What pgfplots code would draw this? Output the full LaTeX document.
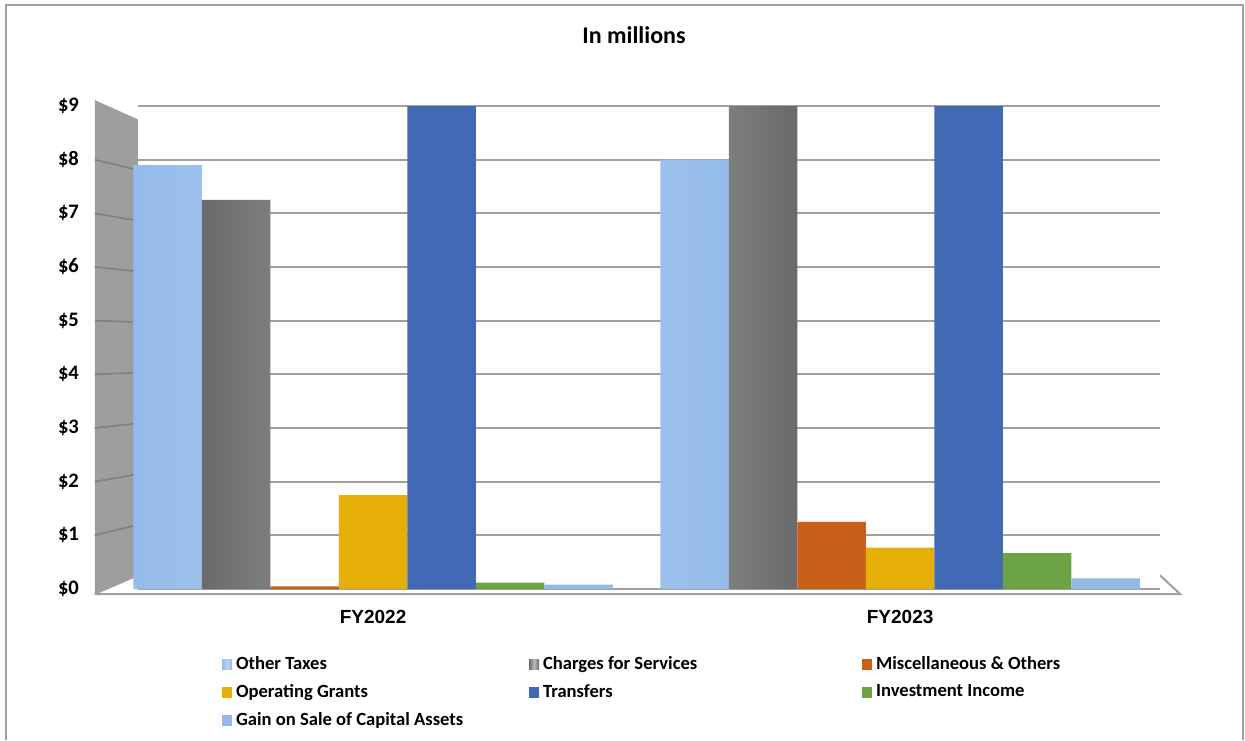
\documentclass[border=0pt]{standalone}
\usepackage{pgfplots}
\pgfplotsset{compat=1.18}
\usepackage{fontspec}
\setmainfont{Carlito}
\newfontfamily\arialfont{Liberation Sans}
\definecolor{otax}{HTML}{95BBEA}
\definecolor{otaxL}{HTML}{B8D3F2}
\definecolor{chgD}{HTML}{6A6A6A}
\definecolor{chgL}{HTML}{BCBCBC}
\definecolor{misc}{HTML}{C95F19}
\definecolor{opg}{HTML}{E6AF07}
\definecolor{trf}{HTML}{4169B4}
\definecolor{inv}{HTML}{6BA345}
\definecolor{gain}{HTML}{95B9E6}
\definecolor{gridc}{HTML}{A0A0A0}
\begin{document}
\begin{tikzpicture}
\useasboundingbox (-69pt,-75.5pt) rectangle (553.5pt,294.5pt);
\draw[gridc, line width=0.8pt] (-66pt,-75.5pt) -- (-66pt,292pt) -- (552.5pt,292pt) -- (552.5pt,-75.5pt);
\begin{axis}[
  at={(0,0)}, anchor=south west,
  scale only axis, width=511pt, height=241.5pt,
  xmin=-0.446, xmax=1.493, ymin=0, ymax=9,
  ybar=0pt, bar width=34.25pt,
  clip=false,
  axis line style={draw=none},
  major tick length=0pt,
  ymajorgrids, grid style={gridc, line width=0.9pt},
  ytick={0,1,...,9},
  yticklabels={\$0,\$1,\$2,\$3,\$4,\$5,\$6,\$7,\$8,\$9},
  yticklabel style={font=\bfseries\fontsize{10.3}{11}\selectfont, xshift=-26pt},
  xtick={0,1}, xticklabels={FY2022,FY2023},
  xticklabel style={font=\arialfont\bfseries\fontsize{9.5}{11}\selectfont, yshift=-7pt},
  legend columns=3,
  legend cell align=left,
  legend style={draw=none, fill=none, at={(axis description cs:0.076,-0.122)}, anchor=north west,
    font=\bfseries\fontsize{9.3}{11}\selectfont, row sep=2pt,
    /tikz/every even column/.append style={column sep=0pt}},
  legend image code/.code={\path[#1, draw=none] (0pt,-2.6pt) rectangle (5pt,2.6pt);},
]
% decorative side wall and floor
\fill[black!38] (axis cs:-0.528,-0.093) -- (axis cs:-0.528,9.11) -- (axis cs:-0.446,8.75) -- (axis cs:-0.446,0.255) -- cycle;
\draw[gridc!80!black, line width=0.8pt] (axis cs:-0.528,1) -- (axis cs:-0.446,1.199);
\draw[gridc!80!black, line width=0.8pt] (axis cs:-0.528,2) -- (axis cs:-0.446,2.143);
\draw[gridc!80!black, line width=0.8pt] (axis cs:-0.528,3) -- (axis cs:-0.446,3.087);
\draw[gridc!80!black, line width=0.8pt] (axis cs:-0.528,4) -- (axis cs:-0.446,4.031);
\draw[gridc!80!black, line width=0.8pt] (axis cs:-0.528,5) -- (axis cs:-0.446,4.975);
\draw[gridc!80!black, line width=0.8pt] (axis cs:-0.528,6) -- (axis cs:-0.446,5.919);
\draw[gridc!80!black, line width=0.8pt] (axis cs:-0.528,7) -- (axis cs:-0.446,6.863);
\draw[gridc!80!black, line width=0.8pt] (axis cs:-0.528,8) -- (axis cs:-0.446,7.807);
\draw[gridc, line width=1pt] (axis cs:-0.528,-0.093) -- (axis cs:1.531,-0.093) -- (axis cs:1.493,0.255);
\draw[gridc, line width=0.8pt] (axis cs:-0.528,-0.093) -- (axis cs:-0.446,0.255);

\addplot[draw=none, left color=otax, right color=otax, middle color=otaxL] coordinates {(0,7.9) (1,8.0)};
\addlegendentry{\makebox[144.5pt][l]{Other Taxes}}
\addplot[draw=none, left color=chgD, right color=chgD, middle color=chgL] coordinates {(0,7.25) (1,9)};
\addlegendentry{\makebox[157.5pt][l]{Charges for Services}}
\addplot[draw=none, fill=misc] coordinates {(0,0.05) (1,1.25)};
\addlegendentry{Miscellaneous \& Others}
\addplot[draw=none, fill=opg] coordinates {(0,1.75) (1,0.77)};
\addlegendentry{\makebox[144.5pt][l]{Operating Grants}}
\addplot[draw=none, fill=trf] coordinates {(0,9) (1,9)};
\addlegendentry{\makebox[157.5pt][l]{Transfers}}
\addplot[draw=none, fill=inv] coordinates {(0,0.12) (1,0.67)};
\addlegendentry{Investment Income}
\addplot[draw=none, fill=gain] coordinates {(0,0.08) (1,0.2)};
\addlegendentry{\makebox[144.5pt][l]{Gain on Sale of Capital Assets}}
\end{axis}
\node[font=\bfseries\fontsize{12}{14}\selectfont] at (248pt,277pt) {In millions};
\end{tikzpicture}
\end{document}
